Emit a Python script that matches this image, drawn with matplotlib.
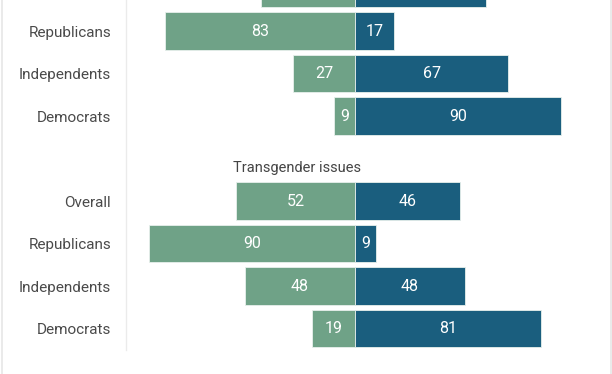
import numpy as np
import matplotlib.pyplot as plt
from matplotlib.lines import Line2D

plt.rcParams['font.family'] = ['Roboto', 'DejaVu Sans']

# data
groups = ['Overall', 'Republicans', 'Independents', 'Democrats']
section_titles = ['', 'Transgender issues']
left_vals = [[41, 83, 27, 9], [52, 90, 48, 19]]
right_vals = [[57, 17, 67, 90], [46, 9, 48, 81]]

green = '#6fa287'
blue = '#1a5e7e'

# visible window (chart is cropped at the top)
y_top, y_bottom = 0.27, 8.506

fig = plt.figure(figsize=(6.12, 3.74), dpi=100)
ax = fig.add_axes([126/612, 24/374, 1 - 126/612, 350/374])

ypos = []
ylabels = []
for s in range(2):
    base = s * 5
    ys = np.arange(4) + base
    ax.barh(ys, [-v for v in left_vals[s]], height=0.88, color=green,
            edgecolor='#e8f0ec', linewidth=0.6)
    ax.barh(ys, right_vals[s], height=0.88, color=blue,
            edgecolor='#e8f0ec', linewidth=0.6)
    for y, l, r in zip(ys, left_vals[s], right_vals[s]):
        if y < y_top:
            continue  # label sits outside the cropped view
        ax.text(-l / 2, y, str(l), ha='center', va='center', color='white',
                fontsize=11.5)
        ax.text(r / 2, y, str(r), ha='center', va='center', color='white',
                fontsize=11.5)
    if section_titles[s]:
        ax.text(-25.3, base - 0.78, section_titles[s], ha='center', va='center',
                color='#444444', fontsize=10.5)
    ypos += list(ys)
    ylabels += groups

ax.set_yticks(ypos)
ax.set_yticklabels(ylabels, fontsize=11, color='#4a4a4a')
ax.set_xticks([])
ax.set_xlim(-100, 112.2)
ax.set_ylim(y_bottom, y_top)
ax.tick_params(axis='y', length=0, pad=10.7)
for sp in ['top', 'right', 'bottom']:
    ax.spines[sp].set_visible(False)
ax.spines['left'].set_color('#ebebeb')
ax.spines['left'].set_linewidth(1)

# thin frame edges
fig.add_artist(Line2D([1.5/612, 1.5/612], [0, 1], color='#e6e6e6', lw=1.2))
fig.add_artist(Line2D([610.5/612, 610.5/612], [0, 1], color='#e6e6e6', lw=1.2))

fig.savefig('out.png', dpi=100)
